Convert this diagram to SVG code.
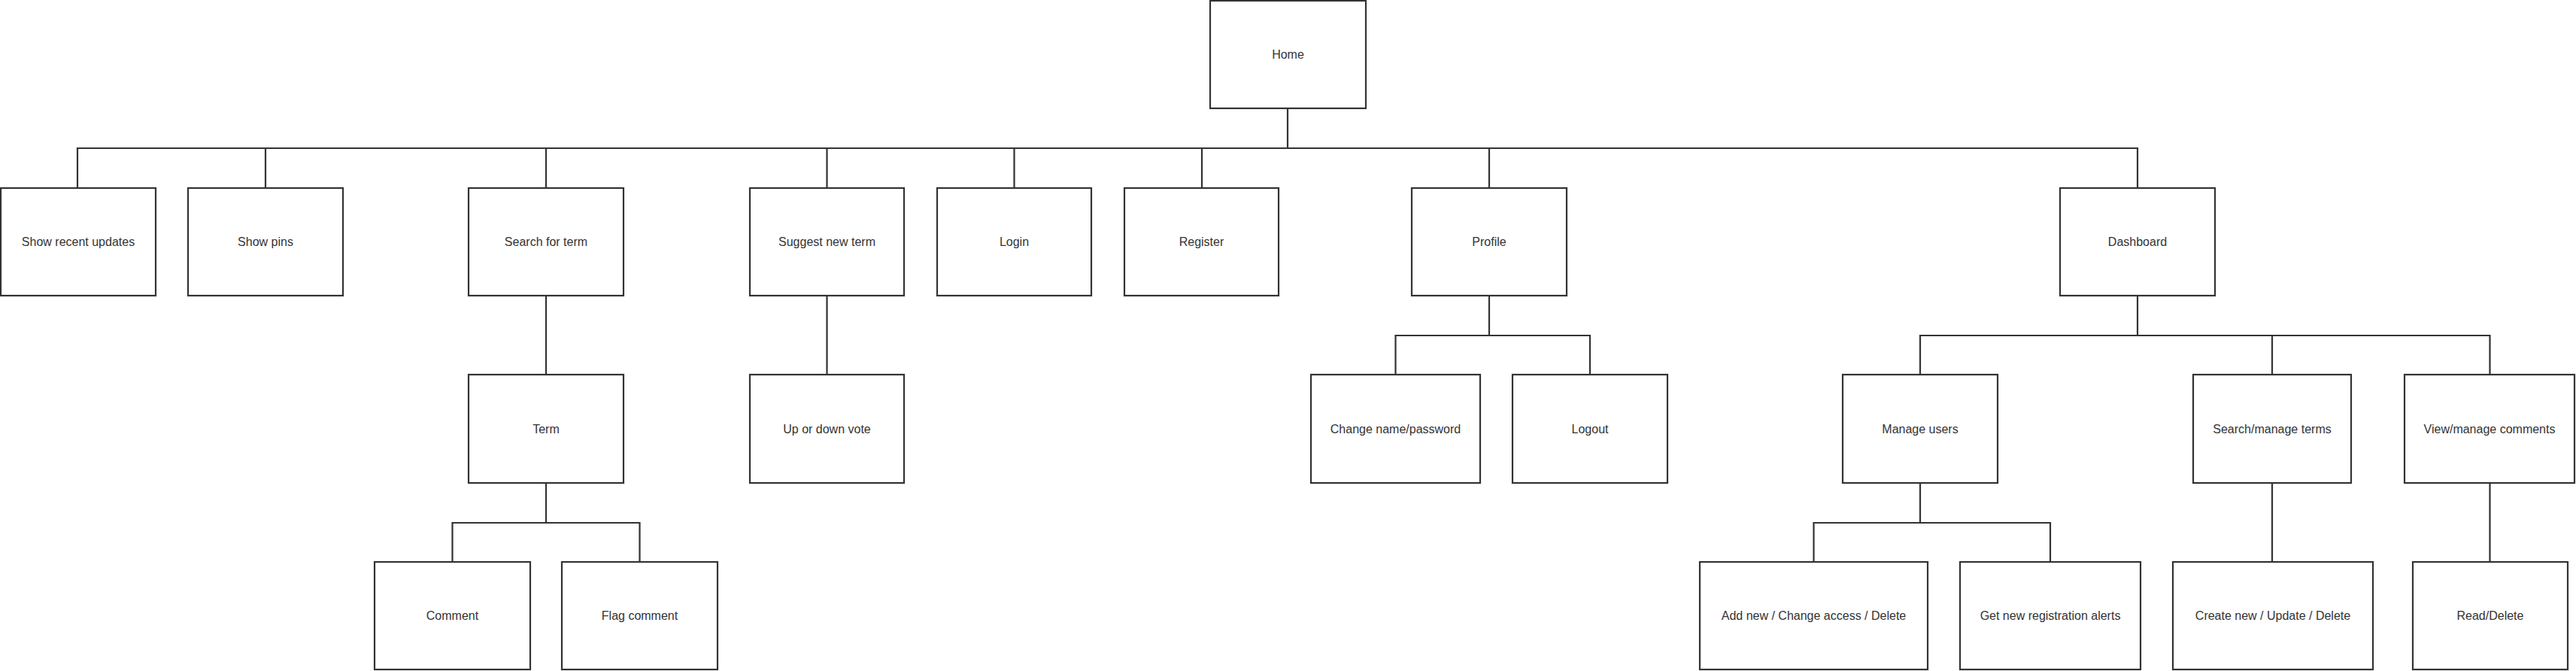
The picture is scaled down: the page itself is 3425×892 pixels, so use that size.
<svg xmlns="http://www.w3.org/2000/svg" width="3425" height="892" viewBox="0 0 3425 892">
<style>
.box{fill:#fff;stroke:#333;stroke-width:2.2}
.lbl{font-family:"Liberation Sans",Arial,sans-serif;font-size:16px;fill:#333;text-anchor:middle;dominant-baseline:central}
.con{fill:none;stroke:#333;stroke-width:2.2}
</style>
<rect width="3425" height="892" fill="#fff"/>
<g id="connectors">
<path class="con" d="M1712,144V197M103,250V197H2842V250M353,197V250M726,197V250M1099.5,197V250M1348.5,197V250M1598,197V250M1980,197V250"/>
<path class="con" d="M726,393V498M1099.5,393V498"/>
<path class="con" d="M1980,393V446M1855.5,498V446H2114V498"/>
<path class="con" d="M2842,393V446M2553,498V446H3310.5V498M3021,446V498"/>
<path class="con" d="M726,642V695M601.5,747V695H850.5V747"/>
<path class="con" d="M2553,642V695M2411.5,747V695H2726V747"/>
<path class="con" d="M3021,642V747M3310.5,642V747"/>
</g>
<g id="home"><rect class="box" x="1609" y="1" width="207" height="143"/><text class="lbl" x="1712.5" y="72">Home</text></g>
<g id="recent"><rect class="box" x="1" y="250" width="206" height="143"/><text class="lbl" x="104" y="321.5">Show recent updates</text></g>
<g id="pins"><rect class="box" x="250" y="250" width="206" height="143"/><text class="lbl" x="353" y="321.5">Show pins</text></g>
<g id="search"><rect class="box" x="623" y="250" width="206" height="143"/><text class="lbl" x="726" y="321.5">Search for term</text></g>
<g id="suggest"><rect class="box" x="997" y="250" width="205" height="143"/><text class="lbl" x="1099.5" y="321.5">Suggest new term</text></g>
<g id="login"><rect class="box" x="1246" y="250" width="205" height="143"/><text class="lbl" x="1348.5" y="321.5">Login</text></g>
<g id="register"><rect class="box" x="1495" y="250" width="205" height="143"/><text class="lbl" x="1597.5" y="321.5">Register</text></g>
<g id="profile"><rect class="box" x="1877" y="250" width="206" height="143"/><text class="lbl" x="1980" y="321.5">Profile</text></g>
<g id="dashboard"><rect class="box" x="2739" y="250" width="206" height="143"/><text class="lbl" x="2842" y="321.5">Dashboard</text></g>
<g id="term"><rect class="box" x="623" y="498" width="206" height="144"/><text class="lbl" x="726" y="570">Term</text></g>
<g id="vote"><rect class="box" x="997" y="498" width="205" height="144"/><text class="lbl" x="1099.5" y="570">Up or down vote</text></g>
<g id="changename"><rect class="box" x="1743" y="498" width="225" height="144"/><text class="lbl" x="1855.5" y="570">Change name/password</text></g>
<g id="logout"><rect class="box" x="2011" y="498" width="206" height="144"/><text class="lbl" x="2114" y="570">Logout</text></g>
<g id="manageusers"><rect class="box" x="2450" y="498" width="206" height="144"/><text class="lbl" x="2553" y="570">Manage users</text></g>
<g id="manageterms"><rect class="box" x="2916" y="498" width="210" height="144"/><text class="lbl" x="3021" y="570">Search/manage terms</text></g>
<g id="managecomments"><rect class="box" x="3197" y="498" width="226" height="144"/><text class="lbl" x="3310" y="570">View/manage comments</text></g>
<g id="comment"><rect class="box" x="498" y="747" width="207" height="143"/><text class="lbl" x="601.5" y="818.5">Comment</text></g>
<g id="flag"><rect class="box" x="747" y="747" width="207" height="143"/><text class="lbl" x="850.5" y="818.5">Flag comment</text></g>
<g id="usersactions"><rect class="box" x="2260" y="747" width="303" height="143"/><text class="lbl" x="2411.5" y="818.5">Add new / Change access / Delete</text></g>
<g id="alerts"><rect class="box" x="2606" y="747" width="240" height="143"/><text class="lbl" x="2726" y="818.5">Get new registration alerts</text></g>
<g id="termsactions"><rect class="box" x="2889" y="747" width="266" height="143"/><text class="lbl" x="3022" y="818.5">Create new / Update / Delete</text></g>
<g id="readdelete"><rect class="box" x="3208" y="747" width="206" height="143"/><text class="lbl" x="3311" y="818.5">Read/Delete</text></g>
</svg>
